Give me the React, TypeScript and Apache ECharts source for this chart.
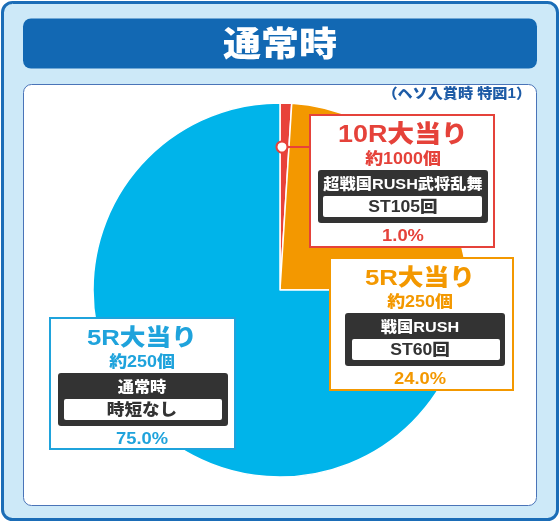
import React, { useEffect, useRef } from "react";
import * as echarts from "echarts";

// ---- data ----
const categories = ["10R大当り", "5R大当り", "5R大当り"];
const shares = [1.0, 24.0, 75.0];
const payouts = ["約1000個", "約250個", "約250個"];
const modes = ["超戦国RUSH武将乱舞", "戦国RUSH", "通常時"];
const stLabels = ["ST105回", "ST60回", "時短なし"];
const chartTitle = "通常時";
const subTitle = "（ヘソ入賞時 特図1）";

// ---- styles ----
const sliceColors = ["#E8423A", "#F39800", "#00B4EA"];
const textColors = ["#E5423A", "#F39800", "#1FA3DC"];
const FONT = '"Liberation Sans", "Noto Sans CJK JP", sans-serif';

// label box layout (per slice)
const boxes = [
  { x: 310, y: 115, w: 184, h: 132, cx: 403, dx: 318, dw: 170, wx: 323, ww: 159 },
  { x: 330, y: 258, w: 183, h: 132, cx: 420, dx: 345, dw: 160, wx: 352, ww: 148 },
  { x: 50, y: 318, w: 185, h: 131, cx: 142, dx: 58, dw: 170, wx: 64, ww: 158 },
];

function txt(text: string, x: number, y: number, size: number, color: string, sx = 1, z = 20) {
  return {
    type: "text",
    x,
    y,
    scaleX: sx,
    z,
    silent: true,
    style: {
      text,
      x: 0,
      y: 0,
      fill: color,
      font: `900 ${size}px ${FONT}`,
      align: "center",
      verticalAlign: "middle",
    },
  };
}

function labelBox(i: number) {
  const b = boxes[i];
  const c = textColors[i];
  const els: any[] = [];
  els.push({
    type: "rect",
    z: 10,
    silent: true,
    shape: { x: b.x, y: b.y, width: b.w, height: b.h },
    style: { fill: "#fff", stroke: c, lineWidth: 2 },
  });
  els.push(txt(categories[i], b.cx, b.y + 19, i === 0 ? 24 : 23, c, 1.12));
  els.push(txt(payouts[i], b.cx, b.y + 44, 16, c, 1.12));
  els.push({
    type: "rect",
    z: 12,
    silent: true,
    shape: { x: b.dx, y: b.y + 55, width: b.dw, height: 53, r: 3 },
    style: { fill: "#333333" },
  });
  els.push(txt(modes[i], b.cx, b.y + 69, 15, "#ffffff", 1.08));
  els.push({
    type: "rect",
    z: 14,
    silent: true,
    shape: { x: b.wx, y: b.y + 81, width: b.ww, height: 21, r: 2 },
    style: { fill: "#ffffff" },
  });
  els.push(txt(stLabels[i], b.cx, b.y + 92, 16, "#333333", 1.1));
  els.push(txt(`${shares[i].toFixed(1)}%`, b.cx, b.y + 120, 17, c, 1.08));
  return els;
}

export default function App() {
  const ref = useRef<HTMLDivElement>(null);
  useEffect(() => {
    if (!ref.current) return;
    const chart = echarts.init(ref.current, null, { renderer: "svg" });
    const elements: any[] = [
      {
        type: "rect",
        z: 0,
        silent: true,
        shape: { x: 2.5, y: 2.5, width: 555, height: 517, r: 10 },
        style: { fill: "#CDE9F8", stroke: "#1B6DB7", lineWidth: 3 },
      },
      {
        type: "rect",
        z: 0,
        silent: true,
        shape: { x: 23, y: 18.5, width: 514, height: 50, r: 8 },
        style: { fill: "#1268B3" },
      },
      txt(chartTitle, 280, 44, 34, "#ffffff", 1.12, 1),
      {
        type: "rect",
        z: 0,
        silent: true,
        shape: { x: 23.5, y: 84.5, width: 513, height: 421, r: 8 },
        style: { fill: "#ffffff", stroke: "#4A74B8", lineWidth: 1 },
      },
      {
        type: "text",
        x: 531,
        y: 93,
        z: 1,
        scaleX: 1.08,
        silent: true,
        style: {
          text: subTitle,
          x: 0,
          y: 0,
          fill: "#1D5BA6",
          font: `900 14px ${FONT}`,
          align: "right",
          verticalAlign: "middle",
        },
      },
      // connector for the small slice
      {
        type: "line",
        z: 9,
        silent: true,
        shape: { x1: 282, y1: 147, x2: 311, y2: 147 },
        style: { stroke: sliceColors[0], lineWidth: 2 },
      },
      {
        type: "circle",
        z: 9,
        silent: true,
        shape: { cx: 282, cy: 147, r: 5.5 },
        style: { fill: "#ffffff", stroke: sliceColors[0], lineWidth: 2 },
      },
      ...labelBox(0),
      ...labelBox(1),
      ...labelBox(2),
    ];
    chart.setOption({
      animation: false,
      series: [
        {
          type: "pie",
          z: 2,
          silent: true,
          center: [280, 290],
          radius: 187,
          startAngle: 90,
          clockwise: true,
          label: { show: false },
          labelLine: { show: false },
          itemStyle: { borderColor: "#ffffff", borderWidth: 1.5 },
          data: shares.map((v, i) => ({
            value: v,
            name: categories[i] + i,
            itemStyle: { color: sliceColors[i] },
          })),
        },
      ],
      graphic: { elements },
    });
    return () => chart.dispose();
  }, []);
  return (
    <div
      ref={ref}
      style={{ position: "fixed", left: 0, top: 0, width: 560, height: 523 }}
    />
  );
}
